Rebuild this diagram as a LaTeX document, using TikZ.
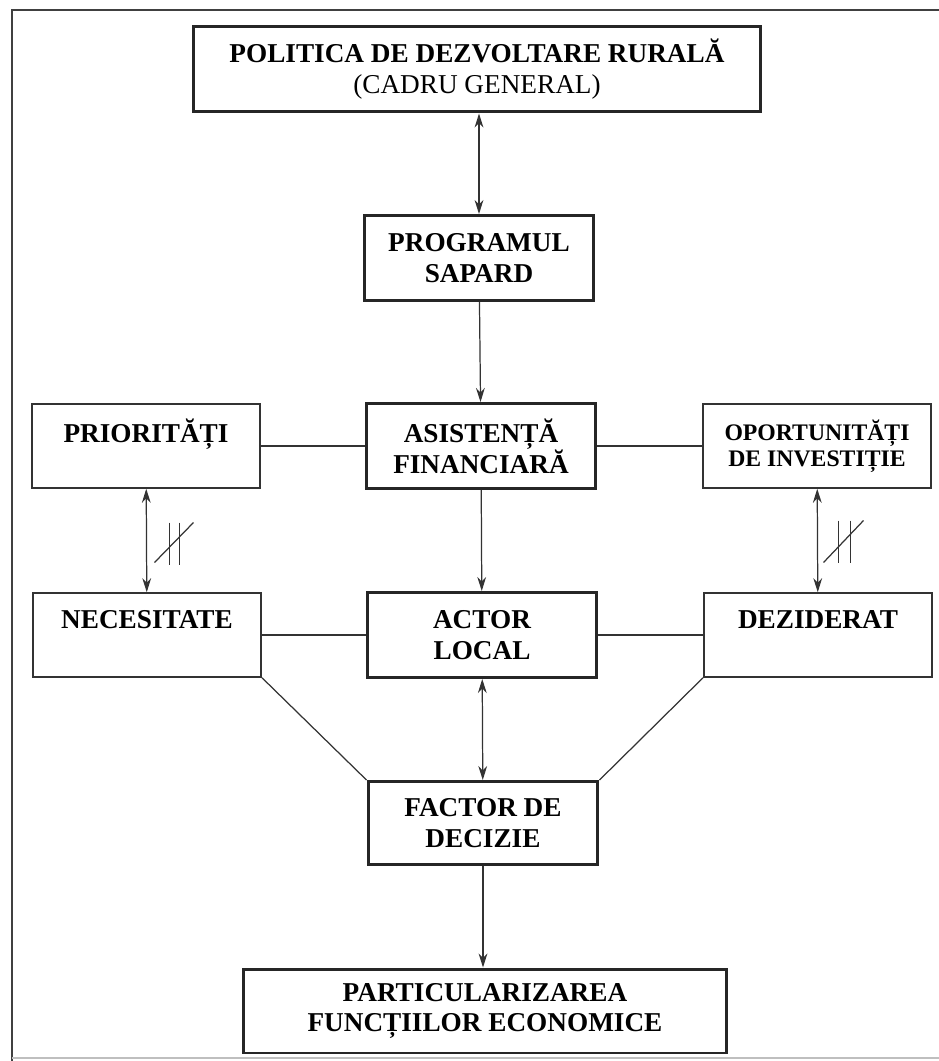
\documentclass[tikz,border=0pt]{standalone}
\usepackage{fontspec}
\setmainfont{Liberation Serif}
\usetikzlibrary{arrows.meta,positioning,calc}

\begin{document}
\begin{tikzpicture}[x=0.02cm, y=-0.02cm, >={Stealth[length=8pt,width=5pt]},
  every node/.style={align=center, inner sep=0pt, font=\fontsize{15.5}{17.5}\selectfont\bfseries},
  mainbox/.style={draw=black!85, line width=1.7pt, minimum width=4.6cm, minimum height=1.7cm},
  sidebox/.style={draw=black!80, line width=0.9pt, minimum width=4.57cm, minimum height=1.68cm},
  link/.style={draw=black!80, line width=0.7pt}]

  % Page frame
  \useasboundingbox (0,0) rectangle (939,1061);
  \draw[black!75, line width=0.9pt] (939,10) -- (12,10) -- (12,1061);
  \draw[black!25, line width=0.8pt] (12,1058) -- (939,1058);

  % Define coordinates for nodes
  \node[mainbox, minimum width=11.34cm, minimum height=1.72cm] (pol) at (477,69) {POLITICA DE DEZVOLTARE RURALĂ\\{\mdseries (CADRU GENERAL)}};
  \node[mainbox] (sapard) at (479,258) {PROGRAMUL\\SAPARD};
  \node[mainbox] (asist) at (481,446) {ASISTENȚĂ\\FINANCIARĂ};
  \node[sidebox] (prior) at (146,446) {PRIORITĂȚI\\~};
  \node[sidebox, font=\fontsize{13.5}{15}\selectfont\bfseries] (oport) at (817,446) {OPORTUNITĂȚI\\DE INVESTIȚIE};
  \node[mainbox] (actor) at (482,635) {ACTOR\\LOCAL};
  \node[sidebox] (nec) at (147,635) {NECESITATE\\~};
  \node[sidebox] (dez) at (818,635) {DEZIDERAT\\~};
  \node[mainbox, minimum height=1.66cm] (factor) at (483,823) {FACTOR DE\\DECIZIE};
  \node[mainbox, minimum width=9.66cm, minimum height=1.68cm] (part) at (485,1011) {PARTICULARIZAREA\\FUNCȚIILOR ECONOMICE};

  % Draw arrows between nodes
  \draw[<->, link] (pol.south -| sapard) -- (sapard.north);
  \draw[->, link] (sapard) -- (asist);
  \draw[->, link] (asist) -- (actor);
  \draw[<->, link] (actor) -- (factor);
  \draw[->, link] (factor.south) -- (factor.south |- part.north);
  \draw[<->, link] (prior) -- (nec);
  \draw[<->, link] (oport) -- (dez);

  % Plain links
  \draw[link, line width=0.9pt] (prior) -- (asist);
  \draw[link, line width=0.9pt] (asist) -- (oport);
  \draw[link, line width=0.9pt] (nec) -- (actor);
  \draw[link, line width=0.9pt] (actor) -- (dez);
  \draw[link] (nec.south east) -- (factor.north west);
  \draw[link] (dez.south west) -- (factor.north east);

  % Crossed marks beside the side arrows
  \coordinate (hl) at ($(prior.south)!0.5!(nec.north)$);
  \coordinate (hr) at ($(oport.south)!0.5!(dez.north)$);
  \draw[link] ($(hl)+(23,-18)$) -- ++(0,42);
  \draw[link] ($(hl)+(33,-18)$) -- ++(0,42);
  \draw[link] ($(hl)+(8,22)$) -- ($(hl)+(47,-18)$);
  \draw[link] ($(hr)+(21,-20)$) -- ++(0,42);
  \draw[link] ($(hr)+(33,-20)$) -- ++(0,42);
  \draw[link] ($(hr)+(6,22)$) -- ($(hr)+(46,-20)$);
\end{tikzpicture}
\end{document}
